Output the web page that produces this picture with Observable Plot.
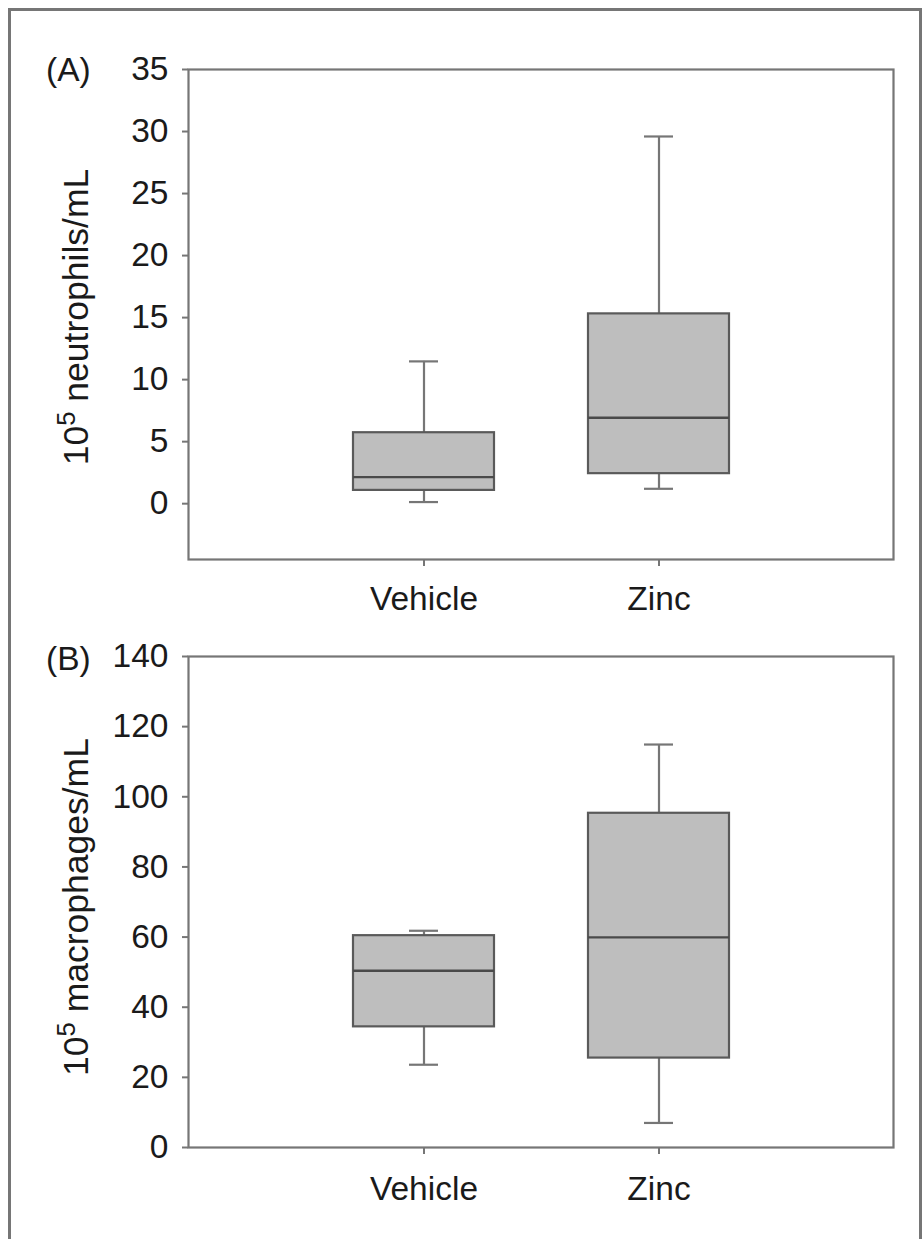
<!DOCTYPE html>
<html>
<head>
<meta charset="utf-8">
<script src="https://cdn.jsdelivr.net/npm/d3@7"></script>
<script src="https://cdn.jsdelivr.net/npm/@observablehq/plot@0.6"></script>
<style>
  html, body { margin: 0; padding: 0; background: #fff; }
  #wrap { position: relative; width: 924px; height: 1239px; overflow: hidden; font-family: "Liberation Sans", Arial, Helvetica, sans-serif; }
  #border { position: absolute; left: 8px; top: 8px; width: 908px; height: 1400px; border: 3px solid #767676; }
  .panel { position: absolute; left: 0; }
</style>
</head>
<body>
<div id="wrap"><div id="border"></div></div>
<script>
// ---- data ----
const groups = ["Vehicle", "Zinc"];
// Panel A: neutrophils (10^5 /mL)
const lowA  = [0.13, 1.2];
const q1A   = [1.07, 2.42];
const medA  = [2.14, 6.93];
const q3A   = [5.72, 15.3];
const highA = [11.47, 29.6];
const ticksA = [0, 5, 10, 15, 20, 25, 30, 35];
// Panel B: macrophages (10^5 /mL)
const lowB  = [23.6, 7.0];
const q1B   = [34.4, 25.5];
const medB  = [50.4, 59.9];
const q3B   = [60.4, 95.3];
const highB = [61.8, 114.9];
const ticksB = [0, 20, 40, 60, 80, 100, 120, 140];

const FS = 33.5;
const LFS = 35.5;
const gray = "#767676";

function panel({low, q1, med, q3, high, ticks, ydomain, top, height, mTop, mBottom, xPad, letter, letterY, labelMain, labelY}) {
  const data = groups.map((g, i) => ({g, low: low[i], q1: q1[i], med: med[i], q3: q3[i], high: high[i]}));
  const chart = Plot.plot({
    width: 924,
    height,
    marginLeft: 188,
    marginRight: 31,
    marginTop: mTop,
    marginBottom: mBottom,
    style: {fontFamily: '"Liberation Sans", Arial, Helvetica, sans-serif', fontSize: FS + "px", color: "#1a1a1a", background: "transparent", overflow: "visible"},
    x: {type: "band", domain: groups, paddingInner: 0.4, paddingOuter: 0.7, label: null},
    y: {domain: ydomain, label: null},
    marks: [
      Plot.frame({stroke: gray, strokeWidth: 2.2}),
      Plot.axisY({ticks, tickSize: 6, tickPadding: 14, stroke: gray, strokeWidth: 2, fill: "#1a1a1a", strokeOpacity: 1, fontSize: FS, label: null}),
      Plot.axisX({tickSize: 7, tickPadding: xPad, stroke: gray, strokeWidth: 2, strokeOpacity: 1, fill: "#1a1a1a", fontSize: FS, label: null}),
      Plot.ruleX(data, {x: "g", y1: "low", y2: "q1", stroke: gray, strokeWidth: 2.2}),
      Plot.ruleX(data, {x: "g", y1: "q3", y2: "high", stroke: gray, strokeWidth: 2.2}),
      Plot.tickY(data, {x: "g", y: "low", stroke: gray, strokeWidth: 2.2, insetLeft: 56, insetRight: 56}),
      Plot.tickY(data, {x: "g", y: "high", stroke: gray, strokeWidth: 2.2, insetLeft: 56, insetRight: 56}),
      Plot.barY(data, {x: "g", y1: "q1", y2: "q3", fill: "#bebebe", stroke: "#5a5a5a", strokeWidth: 2.2}),
      Plot.tickY(data, {x: "g", y: "med", stroke: "#4a4a4a", strokeWidth: 2.4})
    ]
  });
  chart.classList.add("panel");
  chart.style.top = top + "px";
  const svg = d3.select(chart);
  svg.append("text")
    .attr("x", 46).attr("y", letterY)
    .attr("text-anchor", "start")
    .attr("font-size", FS).attr("fill", "#1a1a1a")
    .text(letter);
  const t = svg.append("text")
    .attr("transform", `translate(88,${labelY}) rotate(-90)`)
    .attr("text-anchor", "middle")
    .attr("font-size", LFS).attr("fill", "#1a1a1a");
  t.append("tspan").text("10");
  t.append("tspan").attr("font-size", LFS * 0.72).attr("dy", -LFS * 0.36).text("5");
  t.append("tspan").attr("dy", LFS * 0.36).text(" " + labelMain);
  document.getElementById("wrap").appendChild(chart);
}

panel({low: lowA, q1: q1A, med: medA, q3: q3A, high: highA, ticks: ticksA, ydomain: [-4.5, 35],
  top: 0, height: 620, mTop: 69, mBottom: 61, xPad: 20, letter: "(A)", letterY: 81, labelMain: "neutrophils/mL", labelY: 317});
panel({low: lowB, q1: q1B, med: medB, q3: q3B, high: highB, ticks: ticksB, ydomain: [0, 140],
  top: 620, height: 619, mTop: 36, mBottom: 92, xPad: 22, letter: "(B)", letterY: 50, labelMain: "macrophages/mL", labelY: 287});
</script>
</body>
</html>
